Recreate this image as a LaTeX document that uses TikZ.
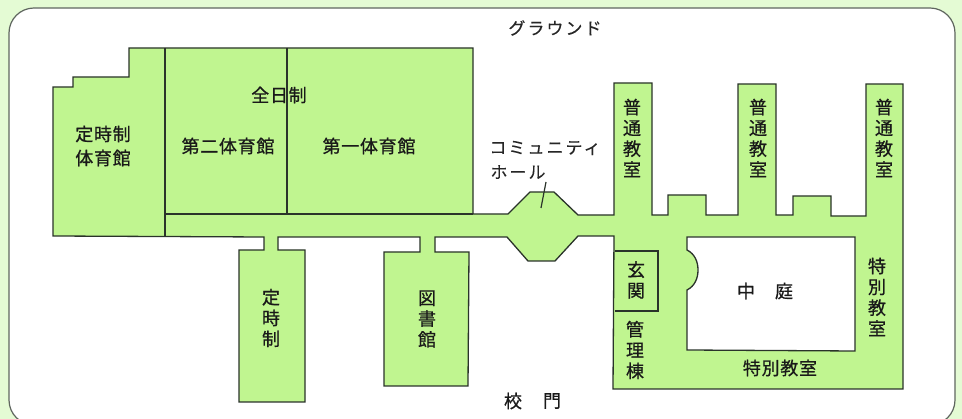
\documentclass[tikz,border=0pt]{standalone}
\usepackage{fontspec}
\newfontfamily\jp[LetterSpace=4,FakeBold=0.7]{Noto Sans CJK JP}
\newfontfamily\jpv[FakeBold=0.7]{Noto Sans CJK JP}
\newfontfamily\jpk[LetterSpace=12,FakeBold=0.3]{Noto Sans CJK JP}
\definecolor{pagebg}{HTML}{E4FBD4}
\definecolor{bldg}{HTML}{C0F590}
\definecolor{ink}{HTML}{2A332A}
\tikzset{
  wall/.style={draw=ink,line width=1.3pt,line join=miter},
  lbl/.style={inner sep=0pt,text=black!90,font=\fontsize{18}{19}\selectfont\jp},
  klbl/.style={inner sep=0pt,text=black!85,font=\fontsize{17}{19}\selectfont\jpk},
  vlbl/.style={inner sep=0pt,text=black!90,align=center,font=\fontsize{18}{20.8}\selectfont\jpv},
}
\begin{document}
\begin{tikzpicture}[x=1pt,y=-1pt]
\useasboundingbox (0,0) rectangle (962,419);
\clip (0,0) rectangle (962,419);
\fill[pagebg] (0,0) rectangle (962,419);
\draw[draw=ink!75,line width=1.2pt,fill=white,rounded corners=25pt] (9,8) rectangle (955,425);
% main building outline
\path[wall,fill=bldg] (53,236) -- (53,87) -- (73,87) -- (73,77) -- (129,77) -- (129,48) -- (473,48) -- (473,214)
 -- (508,214) -- (530,192) -- (554,192) -- (578,215) -- (614,215) -- (614,83) -- (652,83) -- (652,215)
 -- (668,215) -- (668,195) -- (706,195) -- (706,215) -- (738,215) -- (738,84) -- (776,84) -- (776,215)
 -- (793,215) -- (793,196) -- (831,196) -- (831,216) -- (866,216) -- (866,84) -- (903,84) -- (903,389)
 -- (613,389) -- (614,236) -- (578,236) -- (555,261) -- (528,261) -- (507,237) -- (435,237) -- (435,252)
 -- (469,252) -- (468,386) -- (384,386) -- (384,252) -- (420,252) -- (420,237) -- (278,237) -- (278,250)
 -- (305,250) -- (305,402) -- (239,402) -- (239,250) -- (264,250) -- (264,237) -- cycle;
% courtyard
\path[wall,fill=white] (687,237) -- (855,237) -- (855,351) -- (687,350) -- (687,290)
 .. controls (695,286) and (698,278) .. (698,270) .. controls (698,262) and (695,254) .. (687,250) -- cycle;
% partitions
\draw[wall] (165,48) -- (165,236);
\draw[wall] (165,214) -- (473,214);
\draw[wall] (287,48) -- (287,214);
\draw[wall] (615,251) -- (658,251) -- (658,311) -- (615,311);
% labels
\node[klbl] (ground) at (555,28) {グラウンド};
\node[lbl] (zennichi) at (279,95) {全日制};
\node[lbl] (teijigym1) at (103,134) {定時制};
\node[lbl] (teijigym2) at (103,158) {体育館};
\node[lbl] (gym2) at (228,146) {第二体育館};
\node[lbl] (gym1) at (369,146) {第一体育館};
\node[klbl] (comm1) at (545,148) {コミュニティ};
\node[klbl] (comm2) at (518,172) {ホール};
\coordinate (leadA) at (546,182);
\coordinate (leadB) at (541,208);
\draw[ink,line width=1.2pt] (leadA) -- (leadB);
\node[vlbl] (cls1) at (632,138) {普\\通\\教\\室};
\node[vlbl] (cls2) at (758,138) {普\\通\\教\\室};
\node[vlbl] (cls3) at (884,138) {普\\通\\教\\室};
\node[vlbl] (teiji) at (271,318) {定\\時\\制};
\node[vlbl] (lib) at (427,319) {図\\書\\館};
\node[vlbl] (genkan) at (636,280) {玄\\関};
\node[vlbl] (kanri) at (635,350) {管\\理\\棟};
\node[vlbl] (tokubetsuV) at (877,297) {特\\別\\教\\室};
\node[lbl] (tokubetsuH) at (780,368) {特別教室};
\node[vlbl] (naka) at (746,291) {中};
\node[vlbl] (niwa) at (784,291) {庭};
\node[vlbl] (kou) at (513,401) {校};
\node[vlbl] (mon) at (552,401) {門};
\end{tikzpicture}
\end{document}
